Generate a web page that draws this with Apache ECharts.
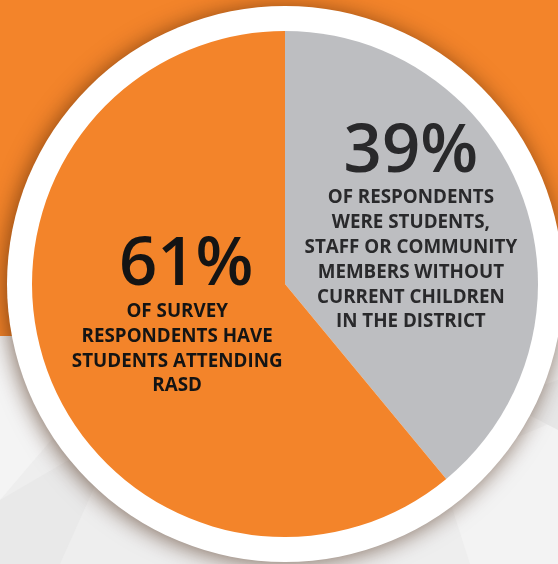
<!DOCTYPE html>
<html>
<head>
<meta charset="utf-8">
<script src="https://cdn.jsdelivr.net/npm/echarts@6/dist/echarts.min.js"></script>
<style>
html,body{margin:0;padding:0;background:#efefef;}
#chart{width:558px;height:564px;}
</style>
</head>
<body>
<div id="chart"></div>
<script>
// Data
const categories = ['Without current children', 'Students attending RASD'];
const values = [39, 61];
const descriptions = [
  ['OF RESPONDENTS', 'WERE STUDENTS,', 'STAFF OR COMMUNITY', 'MEMBERS WITHOUT', 'CURRENT CHILDREN', 'IN THE DISTRICT'],
  ['OF SURVEY', 'RESPONDENTS HAVE', 'STUDENTS ATTENDING', 'RASD']
];
const sliceColors = ['#BDBEC1', '#F3842A'];
const textColors = ['#29292b', '#141414'];

const chart = echarts.init(document.getElementById('chart'));

const pieData = categories.map((c, i) => ({
  name: c,
  value: values[i],
  itemStyle: { color: sliceColors[i] },
  label: {
    formatter: () => '{big|' + values[i] + '%}\n' + descriptions[i].map(t => '{small|' + t + '}').join('\n'),
    rich: {
      big: { fontFamily: 'Open Sans', fontSize: 67, fontWeight: 600, color: textColors[i], lineHeight: 70, padding: [0, 0, -4, i === 1 ? 18 : 0] },
      small: { fontFamily: 'Open Sans', fontSize: 18.8, fontWeight: 'bold', color: textColors[i], lineHeight: 24.8 }
    }
  }
}));

const option = {
  animation: false,
  graphic: [
    { type: 'rect', shape: { x: 0, y: 0, width: 558, height: 336 }, style: { fill: '#F3842A' }, z: -10 },
    { type: 'rect', shape: { x: 0, y: 336, width: 558, height: 228 }, style: { fill: '#eeeeee' }, z: -10 },
    { type: 'polygon', shape: { points: [[0, 336], [140, 336], [0, 500]] }, style: { fill: '#f4f4f4' }, z: -9 },
    { type: 'polygon', shape: { points: [[0, 500], [120, 430], [60, 564], [0, 564]] }, style: { fill: '#e9e9e9' }, z: -9 },
    { type: 'polygon', shape: { points: [[440, 470], [558, 420], [558, 564], [470, 564]] }, style: { fill: '#f3f3f3' }, z: -9 },
    { type: 'polygon', shape: { points: [[500, 400], [558, 380], [558, 430]] }, style: { fill: '#e7e7e7' }, z: -9 }
  ],
  series: [
    {
      type: 'pie',
      silent: true,
      center: [285, 284],
      radius: [0, 278],
      label: { show: false },
      labelLine: { show: false },
      itemStyle: { color: '#ffffff', shadowBlur: 22, shadowColor: 'rgba(60,25,0,0.6)', shadowOffsetX: -2, shadowOffsetY: 2 },
      data: [{ value: 1, name: 'ring' }],
      z: 1
    },
    {
      type: 'pie',
      center: [285, 284],
      radius: [0, 253],
      startAngle: 90,
      clockwise: true,
      label: { show: true, position: 'inside', align: 'center' },
      labelLine: { show: false },
      labelLayout: function (p) {
        return p.dataIndex === 0 ? { dx: 4, dy: -15 } : { dx: 14, dy: -14 };
      },
      emphasis: { disabled: true },
      data: pieData,
      z: 2
    }
  ]
};
chart.setOption(option);
</script>
</body>
</html>
